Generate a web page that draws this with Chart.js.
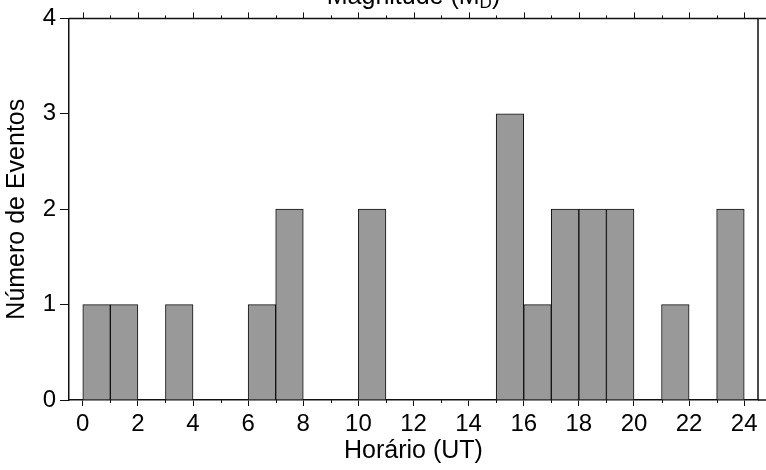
<!DOCTYPE html>
<html>
<head>
<meta charset="utf-8">
<script src="https://cdn.jsdelivr.net/npm/chart.js@4/dist/chart.umd.min.js"></script>
<style>
  html, body { margin: 0; padding: 0; background: #fff; }
  #wrap { width: 766px; height: 470px; }
</style>
</head>
<body>
<div id="wrap"><canvas id="chart" width="766" height="470"></canvas></div>
<script>
// Data ==========================
const binStarts = [0, 1, 2, 3, 4, 5, 6, 7, 8, 9, 10, 11, 12, 13, 14, 15, 16, 17, 18, 19, 20, 21, 22, 23];
const eventCounts = [1, 1, 0, 1, 0, 0, 1, 2, 0, 0, 2, 0, 0, 0, 0, 3, 1, 2, 2, 2, 0, 1, 0, 2];
const xTickLabels = [0, 2, 4, 6, 8, 10, 12, 14, 16, 18, 20, 22, 24];
const yTickLabels = [0, 1, 2, 3, 4];

const FONT = "'Liberation Sans', Arial, sans-serif";
const INK = "#111";

// extra marks: minor ticks, top axis ticks, frame, cut-off top title
const framePlugin = {
    id: "frame",
    afterDraw(chart) {
        const ctx = chart.ctx;
        const a = chart.chartArea;
        const xs = chart.scales.x;
        ctx.save();
        ctx.strokeStyle = INK;
        ctx.lineWidth = 1;
        // hourly ticks: bottom (odd only, short) and top (all)
        for (let h = 0; h <= 24; h++) {
            const px = Math.round(xs.getPixelForValue(h)) + 0.5;
            const len = h % 2 === 0 ? 6 : 3;
            ctx.beginPath();
            ctx.moveTo(px, a.top);
            ctx.lineTo(px, a.top - len);
            ctx.stroke();
            if (h % 2 === 1) {
                ctx.beginPath();
                ctx.moveTo(px, a.bottom);
                ctx.lineTo(px, a.bottom + len);
                ctx.stroke();
            }
        }
        // top + right frame, lines run on to the right edge
        ctx.lineWidth = 1.5;
        ctx.beginPath();
        ctx.moveTo(a.left, a.top);
        ctx.lineTo(chart.width, a.top);
        ctx.moveTo(a.right, a.top);
        ctx.lineTo(a.right, a.bottom);
        ctx.moveTo(a.right, a.bottom);
        ctx.lineTo(chart.width, a.bottom);
        ctx.stroke();

        // "Magnitude (MD)" title, cut off by the top edge
        ctx.fillStyle = "#000";
        ctx.textBaseline = "alphabetic";
        const main = "Magnitude (M";
        ctx.font = "25px " + FONT;
        const w1 = ctx.measureText(main).width;
        ctx.font = "17px " + FONT;
        const w2 = ctx.measureText("D").width;
        ctx.font = "25px " + FONT;
        const w3 = ctx.measureText(")").width;
        let x = (a.left + a.right) / 2 - (w1 + w2 + w3) / 2;
        const base = 4;
        ctx.fillText(main, x, base);
        x += w1;
        ctx.font = "17px " + FONT;
        ctx.fillText("D", x, base + 4);
        x += w2;
        ctx.font = "25px " + FONT;
        ctx.fillText(")", x, base);
        ctx.restore();
    }
};

const ctx = document.getElementById("chart").getContext("2d");

const chart = new Chart(ctx, {
    type: "bar",
    data: {
        datasets: [{
            data: binStarts.map((h, i) => ({ x: h + 0.5, y: eventCounts[i] })),
            backgroundColor: "#999999",
            borderColor: INK,
            borderWidth: 1,
            borderSkipped: "start",
            barPercentage: 1,
            categoryPercentage: 1
        }]
    },
    options: {
        responsive: false,
        animation: false,
        layout: { padding: { top: 15, right: 8, left: 0, bottom: 0 } },
        plugins: {
            legend: { display: false },
            tooltip: { enabled: false }
        },
        scales: {
            x: {
                type: "linear",
                min: -0.5,
                max: 24.5,
                offset: false,
                afterBuildTicks: s => { s.ticks = xTickLabels.map(v => ({ value: v })); },
                afterFit: s => { s.height = 70; },
                ticks: {
                    color: "#000",
                    font: { family: FONT, size: 24 },
                    padding: 4,
                    maxRotation: 0,
                    autoSkip: false
                },
                grid: {
                    offset: false,
                    drawOnChartArea: false,
                    drawTicks: true,
                    tickLength: 6,
                    color: INK,
                    lineWidth: 1
                },
                border: { display: true, color: INK, width: 1.5 },
                title: {
                    display: true,
                    text: "Horário (UT)",
                    color: "#000",
                    font: { family: FONT, size: 25 },
                    padding: { top: 0, bottom: 4 }
                }
            },
            y: {
                min: 0,
                max: 4,
                afterBuildTicks: s => { s.ticks = yTickLabels.map(v => ({ value: v })); },
                afterFit: s => { s.width = 69; },
                ticks: {
                    color: "#000",
                    font: { family: FONT, size: 24 },
                    padding: 4
                },
                grid: {
                    drawOnChartArea: false,
                    drawTicks: true,
                    tickLength: 9,
                    color: INK,
                    lineWidth: 1
                },
                border: { display: true, color: INK, width: 1.5 },
                title: {
                    display: true,
                    text: "Número de Eventos",
                    color: "#000",
                    font: { family: FONT, size: 25 },
                    padding: { top: 2, bottom: 0 }
                }
            }
        }
    },
    plugins: [framePlugin]
});
</script>
</body>
</html>
